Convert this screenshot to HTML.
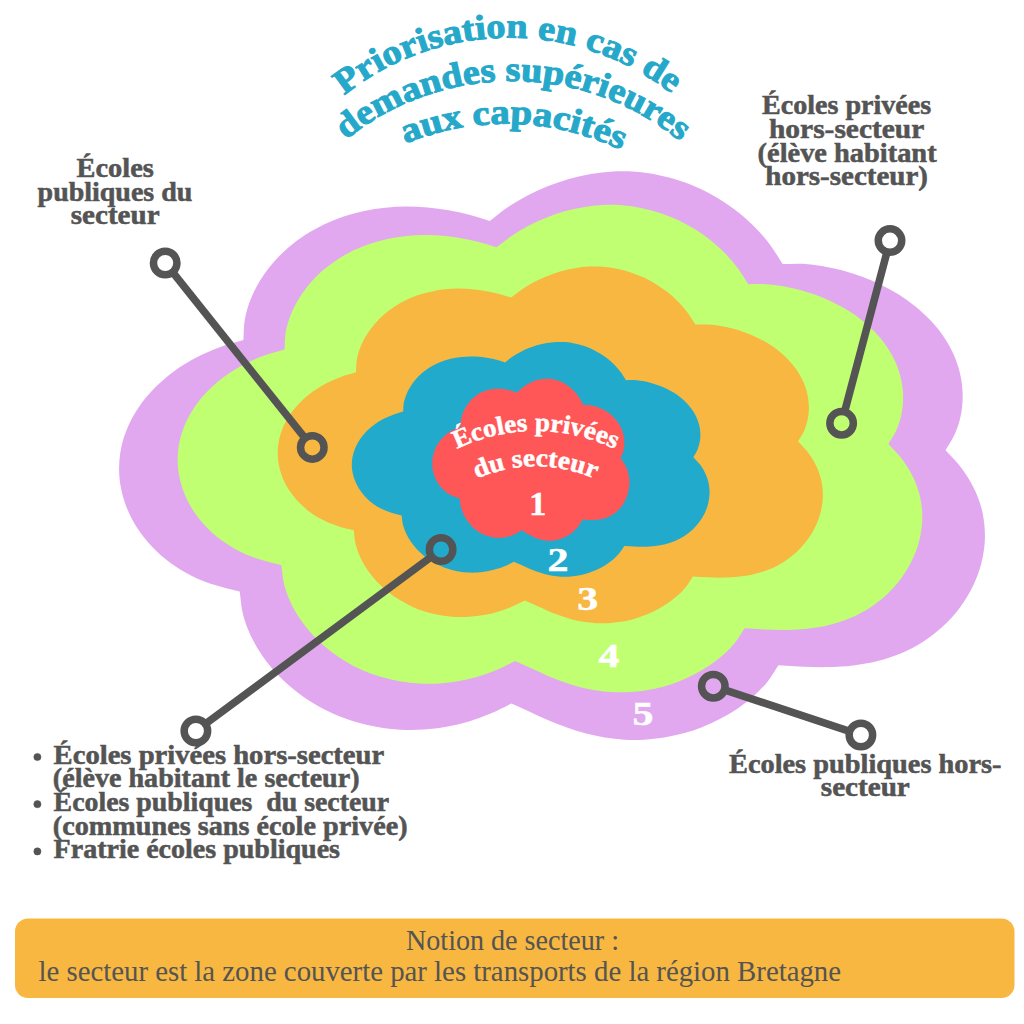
<!DOCTYPE html>
<html lang="fr">
<head>
<meta charset="utf-8">
<title>Priorisation en cas de demandes supérieures aux capacités</title>
<style>
html,body{margin:0;padding:0;background:#fff;}
body{width:1024px;height:1024px;overflow:hidden;position:relative;font-family:"Liberation Serif",serif;}
svg{position:absolute;left:0;top:0;display:block;}
text{font-family:"Liberation Serif",serif;font-weight:bold;font-size:28px;white-space:pre;}
.g{fill:#545454;stroke:#545454;stroke-width:0.55px;}
.w{fill:#ffffff;}
.t{fill:#25a8c9;font-size:35px;stroke:#25a8c9;stroke-width:1px;}
.n{fill:#ffffff;font-size:34.6px;text-anchor:middle;stroke:#fff;stroke-width:0.5px;}
.r{fill:#ffffff;font-size:26px;stroke:#fff;stroke-width:0.5px;}
.note{fill:#545454;font-weight:normal;font-size:30px;}
.c{stroke:#545454;fill:none;}
</style>
</head>
<body>
<svg width="1024" height="1024" viewBox="0 0 1024 1024">
<defs><path id="cl" d="M243.4 340.0C243.9 333.0 243.6 325.8 244.9 318.9C246.2 312.0 248.3 305.1 251.0 298.5C253.6 292.0 257.0 285.6 260.7 279.6C264.4 273.5 268.8 267.8 273.4 262.4C278.0 257.1 283.1 252.0 288.4 247.4C293.8 242.8 299.5 238.6 305.4 234.7C311.3 230.9 317.6 227.5 323.9 224.4C330.3 221.4 336.9 218.8 343.6 216.5C350.3 214.3 357.2 212.5 364.1 211.0C371.1 209.5 378.1 208.4 385.2 207.7C392.3 206.9 399.4 206.6 406.5 206.5C413.6 206.5 420.7 206.8 427.7 207.4C434.7 208.0 441.8 209.0 448.7 210.2C455.6 211.4 462.5 212.9 469.4 214.7C476.2 216.5 483.0 218.8 489.8 220.9C495.8 216.4 501.5 211.5 507.7 207.3C513.9 203.2 520.4 199.3 527.1 195.8C533.7 192.3 540.6 189.1 547.6 186.3C554.6 183.5 561.7 181.0 568.9 178.9C576.2 176.9 583.5 175.2 590.9 174.0C598.3 172.7 605.8 171.9 613.2 171.5C620.7 171.2 628.2 171.3 635.7 171.8C643.1 172.4 650.6 173.4 657.9 174.9C665.3 176.3 672.6 178.3 679.8 180.7C686.9 183.0 694.0 185.8 700.8 189.0C707.6 192.2 714.3 195.9 720.7 199.9C727.0 203.8 733.2 208.2 739.1 212.9C744.9 217.5 750.4 222.6 755.6 227.9C760.8 233.2 765.7 238.9 770.2 244.9C774.7 250.9 778.5 257.6 782.6 263.9C789.4 263.9 796.2 263.4 803.0 263.8C809.7 264.2 816.5 265.1 823.1 266.2C829.8 267.3 836.4 268.8 842.9 270.5C849.4 272.3 855.9 274.4 862.2 276.8C868.6 279.1 874.9 281.8 880.9 284.8C887.0 287.7 893.0 291.0 898.8 294.6C904.5 298.2 910.1 302.1 915.4 306.4C920.7 310.7 925.8 315.3 930.4 320.2C935.0 325.1 939.4 330.4 943.2 335.9C947.0 341.5 950.4 347.4 953.2 353.5C956.0 359.6 958.3 366.1 959.8 372.6C961.4 379.2 962.4 386.0 962.6 392.8C962.9 399.5 962.4 406.5 961.2 413.2C960.0 419.8 958.0 426.6 955.4 432.8C952.8 439.0 948.8 444.5 945.5 450.3C951.1 456.5 957.2 462.2 962.2 468.9C967.1 475.6 971.6 482.9 975.0 490.4C978.5 497.9 981.2 505.9 982.8 513.9C984.4 522.0 985.1 530.3 984.9 538.5C984.7 546.7 983.4 555.1 981.4 563.1C979.4 571.1 976.4 579.1 972.7 586.6C969.1 594.0 964.6 601.3 959.6 608.0C954.6 614.6 948.9 620.9 942.8 626.6C936.7 632.2 930.0 637.3 923.1 641.8C916.2 646.2 908.8 650.1 901.2 653.3C893.6 656.5 885.7 659.1 877.7 661.1C869.8 663.2 861.5 664.5 853.3 665.5C845.0 666.5 836.6 666.9 828.2 667.1C819.9 667.3 811.4 667.0 803.1 666.7C794.8 666.4 786.6 665.8 778.4 665.3C774.7 670.8 771.5 676.8 767.3 681.9C763.2 687.1 758.5 691.8 753.6 696.2C748.6 700.6 743.3 704.6 737.8 708.4C732.4 712.1 726.6 715.5 720.7 718.6C714.8 721.7 708.7 724.5 702.6 726.9C696.4 729.4 690.0 731.5 683.6 733.3C677.2 735.0 670.7 736.5 664.2 737.5C657.6 738.6 651.0 739.3 644.4 739.7C637.8 740.0 631.1 740.0 624.5 739.7C617.9 739.3 611.3 738.6 604.7 737.5C598.2 736.4 591.7 735.0 585.2 733.3C578.8 731.6 572.5 729.5 566.2 727.3C560.0 725.1 553.8 722.5 547.7 719.9C541.6 717.3 535.6 714.4 529.6 711.7C523.5 709.0 517.5 706.2 511.4 703.5C504.5 706.9 497.7 710.6 490.6 713.6C483.6 716.6 476.3 719.2 468.9 721.4C461.6 723.6 454.0 725.4 446.4 726.8C438.9 728.1 431.2 729.1 423.5 729.6C415.8 730.1 408.1 730.1 400.4 729.7C392.7 729.3 385.0 728.4 377.5 727.1C369.9 725.8 362.4 724.0 355.0 721.8C347.7 719.6 340.4 716.9 333.4 713.8C326.4 710.6 319.5 707.0 313.0 703.0C306.4 699.0 300.0 694.6 294.1 689.7C288.1 684.9 282.4 679.6 277.1 674.0C271.8 668.4 266.9 662.3 262.5 656.0C258.2 649.7 254.2 643.0 250.9 636.1C247.7 629.2 244.9 621.9 243.0 614.5C241.1 607.1 240.8 599.2 239.7 591.6C231.5 589.4 222.9 587.7 215.0 585.1C207.0 582.5 199.3 579.6 191.9 575.9C184.5 572.2 177.3 567.9 170.5 562.9C163.7 557.9 157.2 552.2 151.4 546.0C145.6 539.8 140.2 532.9 135.8 525.7C131.4 518.5 127.6 510.6 124.9 502.7C122.2 494.8 120.3 486.4 119.5 478.2C118.7 469.9 119.0 461.4 120.2 453.3C121.4 445.1 123.7 436.9 126.9 429.2C130.0 421.5 134.2 413.9 138.9 407.0C143.6 400.0 149.3 393.3 155.3 387.3C161.3 381.3 168.0 375.7 174.8 370.7C181.6 365.8 188.9 361.4 196.3 357.5C203.7 353.6 211.2 350.3 219.1 347.4C226.9 344.5 235.3 342.5 243.4 340.0Z"/></defs>
<use href="#cl" fill="#e1a8f0" transform="matrix(1.0000 0 0 1.0000 0.00 0.00)"/>
<use href="#cl" fill="#c1ff72" transform="matrix(0.8600 0 0 0.8573 75.24 57.98)"/>
<use href="#cl" fill="#f7b740" transform="matrix(0.6296 0 0 0.6275 202.76 158.99)"/>
<use href="#cl" fill="#22aacc" transform="matrix(0.4132 0 0 0.4130 302.62 271.16)"/>
<use href="#cl" fill="#ff5757" transform="matrix(0.2278 0 0 0.2850 405.08 329.87)"/>

<g class="c">
<line x1="172.6" y1="272.2" x2="305.0" y2="438.2" stroke-width="7.6"/><circle cx="165.2" cy="263.0" r="11.75" stroke-width="7.5"/><circle cx="312.3" cy="447.4" r="11.75" stroke-width="7.5"/>
<line x1="887.0" y1="252.0" x2="844.6" y2="411.8" stroke-width="7.6"/><circle cx="890.0" cy="240.6" r="11.75" stroke-width="7.5"/><circle cx="841.6" cy="423.2" r="11.75" stroke-width="7.5"/>
<line x1="431.7" y1="556.5" x2="205.3" y2="724.0" stroke-width="7.6"/><circle cx="441.1" cy="549.5" r="11.75" stroke-width="7.5"/><circle cx="195.9" cy="731.0" r="11.75" stroke-width="7.5"/>
<line x1="724.5" y1="689.9" x2="849.7" y2="731.3" stroke-width="7.6"/><circle cx="713.3" cy="686.2" r="11.75" stroke-width="7.5"/><circle cx="860.9" cy="735.0" r="11.75" stroke-width="7.5"/>
</g>

<g class="g">
<text x="76.6" y="177.1" textLength="77.2" lengthAdjust="spacingAndGlyphs">Écoles</text>
<text x="37.6" y="200.5" textLength="154.7" lengthAdjust="spacingAndGlyphs">publiques du</text>
<text x="70.8" y="224.4" textLength="88.8" lengthAdjust="spacingAndGlyphs">secteur</text>
<text x="762.1" y="114.4" textLength="169.1" lengthAdjust="spacingAndGlyphs">Écoles privées</text>
<text x="769.0" y="138.0" textLength="155.3" lengthAdjust="spacingAndGlyphs">hors-secteur</text>
<text x="757.6" y="161.6" textLength="179.0" lengthAdjust="spacingAndGlyphs">(élève habitant</text>
<text x="765.3" y="184.6" textLength="162.7" lengthAdjust="spacingAndGlyphs">hors-secteur)</text>
<text x="53.6" y="763.6" textLength="330.6" lengthAdjust="spacingAndGlyphs">Écoles privées hors-secteur</text>
<text x="52.8" y="786.6" textLength="306.8" lengthAdjust="spacingAndGlyphs">(élève habitant le secteur)</text>
<text x="53.6" y="810.8" textLength="335.6" lengthAdjust="spacingAndGlyphs">Écoles publiques  du secteur</text>
<text x="52.8" y="834.6" textLength="354.8" lengthAdjust="spacingAndGlyphs">(communes sans école privée)</text>
<text x="53.6" y="858.0" textLength="286.4" lengthAdjust="spacingAndGlyphs">Fratrie écoles publiques</text>
<text x="729.0" y="772.8" textLength="272.5" lengthAdjust="spacingAndGlyphs">Écoles publiques hors-</text>
<text x="820.8" y="796.3" textLength="89.0" lengthAdjust="spacingAndGlyphs">secteur</text>
<circle cx="37.4" cy="757.0" r="3.6"/><circle cx="37.4" cy="804.2" r="3.6"/><circle cx="37.4" cy="851.4" r="3.6"/>
</g>
<text class="n" x="537.7" y="515.4" textLength="17.0" lengthAdjust="spacingAndGlyphs">1</text>
<text class="n" x="558.1" y="570.5" textLength="21.0" lengthAdjust="spacingAndGlyphs">2</text>
<text class="n" x="587.7" y="609.6" textLength="21.0" lengthAdjust="spacingAndGlyphs">3</text>
<text class="n" x="608.9" y="666.5" textLength="21.0" lengthAdjust="spacingAndGlyphs">4</text>
<text class="n" x="643.1" y="724.7" textLength="21.0" lengthAdjust="spacingAndGlyphs">5</text>
<path id="t1" fill="none" d="M344.30 95.38 A264.00 264.00 0 0 1 671.53 93.67"/><text class="t" textLength="352.9" lengthAdjust="spacingAndGlyphs"><textPath href="#t1" textLength="352.9" lengthAdjust="spacingAndGlyphs">Priorisation en cas de</textPath></text>
<path id="t2" fill="none" d="M345.86 139.83 A264.00 264.00 0 0 1 679.92 141.29"/><text class="t" textLength="361.7" lengthAdjust="spacingAndGlyphs"><textPath href="#t2" textLength="361.7" lengthAdjust="spacingAndGlyphs">demandes supérieures</textPath></text>
<path id="t3" fill="none" d="M405.40 143.72 A264.00 264.00 0 0 1 620.90 150.12"/><text class="t" textLength="222.1" lengthAdjust="spacingAndGlyphs"><textPath href="#t3" textLength="222.1" lengthAdjust="spacingAndGlyphs">aux capacités</textPath></text>
<path id="r1" fill="none" d="M456.77 449.00 A182.00 182.00 0 0 1 614.63 449.00"/><text class="r" textLength="163.3" lengthAdjust="spacingAndGlyphs"><textPath href="#r1" textLength="163.3" lengthAdjust="spacingAndGlyphs">Écoles privées</textPath></text>
<path id="r2" fill="none" d="M476.77 478.76 A146.60 146.60 0 0 1 594.63 478.76"/><text class="r" textLength="121.3" lengthAdjust="spacingAndGlyphs"><textPath href="#r2" textLength="121.3" lengthAdjust="spacingAndGlyphs">du secteur</textPath></text>
<rect x="15" y="918.5" width="999.5" height="79.5" rx="13" fill="#f7b740"/>
<text class="note" x="406" y="950" textLength="213" lengthAdjust="spacingAndGlyphs">Notion de secteur :</text>
<text class="note" x="38.5" y="981" textLength="802.5" lengthAdjust="spacingAndGlyphs">le secteur est la zone couverte par les transports de la région Bretagne</text>

</svg>
</body>
</html>
